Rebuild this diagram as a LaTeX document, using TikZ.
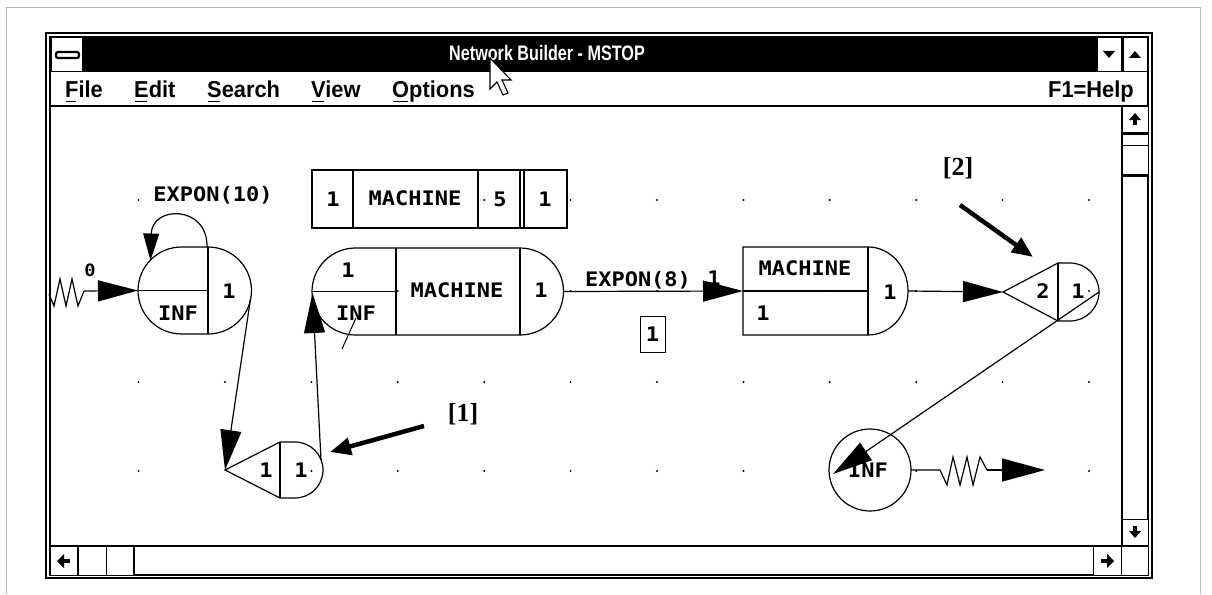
\documentclass[tikz,border=0pt]{standalone}
\usepackage{fontspec}
\usetikzlibrary{arrows.meta}
\newfontfamily\uifont[FakeStretch=0.77]{Liberation Sans}
\newfontfamily\menufont[FakeStretch=0.95]{Liberation Sans}
\newfontfamily\diafont[FakeStretch=1.1]{DejaVu Sans Mono}
\newfontfamily\annfont{Liberation Serif}
\tikzset{
  lin/.style={line width=1.2pt},
  flow/.style={line width=1.2pt,-{Triangle[length=40pt,width=21pt]}},
  sinkflow/.style={line width=1.2pt,-{Triangle[length=43pt,width=23pt]}},
  loopflow/.style={line width=1.2pt,-{Triangle[length=27pt,width=16pt]}},
  callout/.style={line width=4.5pt,-{Triangle[length=21pt,width=17pt]}},
  dt/.style={font=\diafont\bfseries\fontsize{20}{22}\selectfont,inner sep=0pt},
  smalldt/.style={font=\diafont\bfseries\fontsize{17}{19}\selectfont,inner sep=0pt},
  menu/.style={font=\menufont\bfseries\fontsize{23}{25}\selectfont,inner sep=0pt,anchor=base west},
  ann/.style={font=\annfont\bfseries\fontsize{26}{28}\selectfont,inner sep=0pt},
  btn/.style={draw,fill=white,line width=1pt},
  griddot/.style={fill=black},
}
\begin{document}
\begin{tikzpicture}[x=1pt,y=-1pt]
\useasboundingbox (0,0) rectangle (1212,594);
\fill[white] (0,0) rectangle (1212,594);
% faint page frame
\draw[gray!55,line width=0.7pt] (6,594) -- (6,7) -- (1200,7) -- (1200,594);
% window frame
\draw[line width=1.2pt] (46,33) rectangle (1152,578);
\draw[line width=1.5pt] (50,37) rectangle (1148,575);
% title bar
\fill[black] (50,37) rectangle (1148,72);
\draw[btn] (51,38) rectangle (82,71);
\draw[fill=white,line width=2.2pt,rounded corners=2pt] (56,52) rectangle (79,58);
\draw[btn] (1097,38) rectangle (1121,71);
\draw[btn] (1123,38) rectangle (1147,71);
\fill (1103,51) -- (1115,51) -- (1109,58) -- cycle;
\fill (1129,58) -- (1141,58) -- (1135,51) -- cycle;
\node[font=\uifont\bfseries\fontsize{21}{23}\selectfont,text=white,inner sep=0pt] (title) at (547,53) {Network Builder - MSTOP};
% menu bar
\draw[line width=1.5pt] (50,106) -- (1148,106);
\node[menu] (mfile) at (65,97) {File};
\node[menu] (medit) at (134,97) {Edit};
\node[menu] (msearch) at (207,97) {Search};
\node[menu] (mview) at (311,97) {View};
\node[menu] (mopt) at (392,97) {Options};
\node[menu,anchor=base east] (mhelp) at (1134,97) {F1=Help};
\foreach \a/\b in {66/76,135/147,208/220,312/324,393/408}{
  \draw[line width=1.5pt] (\a,101.5) -- (\b,101.5);
}
% mouse cursor
\draw[fill=white,line width=1.1pt,line join=miter] (490,58) -- ++(0,31) -- ++(7,-7) -- ++(6,13) -- ++(5,-2) -- ++(-6,-13) -- ++(9,0) -- cycle;
% vertical scroll bar
\draw[line width=1.2pt] (1122,106) -- (1122,546);
\draw[btn] (1122,106) rectangle (1148,132);
\fill (1129,120) -- (1141,120) -- (1135,113) -- cycle;
\fill (1133,120) rectangle (1137,125);
\draw[btn] (1122,134) rectangle (1148,176);
\draw[line width=2.5pt] (1122,134) -- (1148,134);
\draw[line width=2.5pt] (1122,175) -- (1148,175);
\draw[line width=1pt] (1122,145) -- (1148,145);
\draw[btn] (1122,519) rectangle (1148,546);
\fill (1129,531) -- (1141,531) -- (1135,538) -- cycle;
\fill (1133,526) rectangle (1137,531);
% horizontal scroll bar
\draw[line width=1.5pt] (50,546) -- (1148,546);
\draw[btn] (50,546) rectangle (77,575);
\fill (64,554) -- (64,568) -- (57,561) -- cycle;
\fill (64,559) rectangle (70,563);
\draw[btn] (78,546) rectangle (106,575);
\draw[btn] (106,546) rectangle (134,575);
\draw[line width=2.5pt] (134,546) -- (134,575);
\draw[btn] (1093,546) rectangle (1121,575);
\fill (1107,554) -- (1107,568) -- (1114,561) -- cycle;
\fill (1101,559) rectangle (1107,563);
\draw[btn] (1121,546) rectangle (1148,575);
% grid dots
\foreach \gx/\gy in {138.6/200,484.2/200,570.6/200,657/200,743.4/200,829.8/200,916.2/200,1002.6/200,1089/200,
  397.8/291,570.6/291,657/291,829.8/291,916.2/291,1089/291,
  138.6/382,225/382,311.4/382,397.8/382,484.2/382,570.6/382,657/382,743.4/382,829.8/382,916.2/382,1002.6/382,1089/382,
  138.6/471,311.4/471,397.8/471,484.2/471,570.6/471,657/471,743.4/471,916.2/471,1002.6/471,1089/471}{
  \fill[griddot] (\gx,\gy) circle[radius=1.1pt];
}
% coordinates
\coordinate (src) at (49,294);
\coordinate (zz1end) at (84,291);
\coordinate (create-in) at (138,290.5);
\coordinate (create-out) at (250.5,299);
\coordinate (create-top) at (207,247);
\coordinate (create-loopin) at (150.5,260.5);
\coordinate (as1-in) at (225,470);
\coordinate (as1-out) at (321,460);
\coordinate (queue-in) at (312.5,293);
\coordinate (queue-out) at (563.5,291.5);
\coordinate (act-in) at (743,291);
\coordinate (act-out) at (908,291);
\coordinate (as2-in) at (1003,292);
\coordinate (as2-out) at (1099,292);
\coordinate (inf-in) at (833,474);
\coordinate (inf-out) at (911,470);
\coordinate (zz2start) at (940,470);
\coordinate (zz2end) at (987,470);
\coordinate (sink) at (1045,470);
\coordinate (c1tail) at (424,426);
\coordinate (c1tip) at (330,452);
\coordinate (c2tail) at (960,205);
\coordinate (c2tip) at (1033,257);
% CREATE node
\draw[lin] (181.5,247) -- (208,247) arc[start angle=-90,end angle=90,radius=43.5] -- (181.5,334) arc[start angle=90,end angle=270,radius=43.5] -- cycle;
\draw[lin] (208,247) -- (208,334);
\draw[lin] (138,290.5) -- (208,290.5);
\node[dt] (createinf) at (178,313) {INF};
\node[dt] (createone) at (229,291) {1};
\node[dt] (expon10) at (213,195) {EXPON(10)};
\node[smalldt] (zero) at (90,270) {0};
% RESOURCE block
\draw[lin] (312,170) rectangle (567,228);
\draw[lin] (353,170) -- (353,228);
\draw[lin] (478,170) -- (478,228);
\draw[lin] (520,170) -- (520,228);
\draw[lin] (524,170) -- (524,228);
\node[dt] (rone) at (333,199) {1};
\node[dt] (rmach) at (415,198) {MACHINE};
\node[dt] (rfive) at (500,199) {5};
\node[dt] (rcap) at (545,199) {1};
% QUEUE node
\draw[lin] (355.5,248) -- (520,248) arc[start angle=-90,end angle=90,radius=43.5] -- (355.5,335) arc[start angle=90,end angle=270,radius=43.5] -- cycle;
\draw[lin] (396,248) -- (396,335);
\draw[lin] (520,248) -- (520,335);
\draw[lin] (312,291.5) -- (396,291.5);
\node[dt] (qone) at (348,270) {1};
\node[dt] (qinf) at (356,313) {INF};
\node[dt] (qmach) at (457,290) {MACHINE};
\node[dt] (qout) at (541,290) {1};
\draw[line width=1pt] (342,349) -- (356,318);
% ACTIVITY node
\draw[lin] (743,247) -- (868,247) arc[start angle=-90,end angle=90,x radius=40,y radius=44] -- (743,335) -- cycle;
\draw[lin] (743,291) -- (868,291);
\draw[lin] (868,247) -- (868,335);
\node[dt] (amach) at (805,268) {MACHINE};
\node[dt] (aone) at (763,313) {1};
\node[dt] (aout) at (890,292) {1};
\node[dt] (expon8) at (638,280) {EXPON(8)};
\node[dt] (eight1) at (714,278) {1};
\node[dt,draw,line width=1pt,minimum width=25pt,minimum height=36pt] (box1) at (652.5,334) {1};
% ASSIGN node [2]
\draw[lin] (1003,292) -- (1058,263) -- (1070,263) arc[start angle=-90,end angle=90,radius=29] -- (1058,321) -- cycle;
\draw[lin] (1058,263) -- (1058,321);
\node[dt] (as2a) at (1043,291) {2};
\node[dt] (as2b) at (1078,291) {1};
% ASSIGN node [1]
\draw[lin] (225,470) -- (280,442) -- (295,442) arc[start angle=-90,end angle=90,radius=28] -- (280,498) -- cycle;
\draw[lin] (280,442) -- (280,498);
\node[dt] (as1a) at (266,470) {1};
\node[dt] (as1b) at (301,470) {1};
% TERMINATE node
\draw[lin] (870,470) circle[radius=41];
\node[dt] (tinf) at (868,470) {INF};
% connectors
\draw[lin,line join=miter] (src) -- (54,306) -- (60,279) -- (66,306) -- (72,279) -- (78,306) -- (zz1end);
\draw[flow] (zz1end) -- (create-in);
\draw[loopflow] (create-top) .. controls (208,205) and (152,205) .. (create-loopin);
\draw[flow] (create-out) -- (as1-in);
\draw[flow] (as1-out) -- (queue-in);
\draw[flow] (queue-out) -- (act-in);
\draw[flow] (act-out) -- (as2-in);
\draw[flow] (as2-out) -- (inf-in);
\draw[lin,line join=miter] (inf-out) -- (zz2start) -- (947,485) -- (953,457) -- (960,485) -- (967,457) -- (973,485) -- (980,457) -- (zz2end);
\draw[sinkflow] (zz2end) -- (sink);
% callouts
\node[ann] (lab1) at (463,414) {[1]};
\node[ann] (lab2) at (958,168) {[2]};
\draw[callout] (c1tail) -- (c1tip);
\draw[callout] (c2tail) -- (c2tip);
\end{tikzpicture}
\end{document}
